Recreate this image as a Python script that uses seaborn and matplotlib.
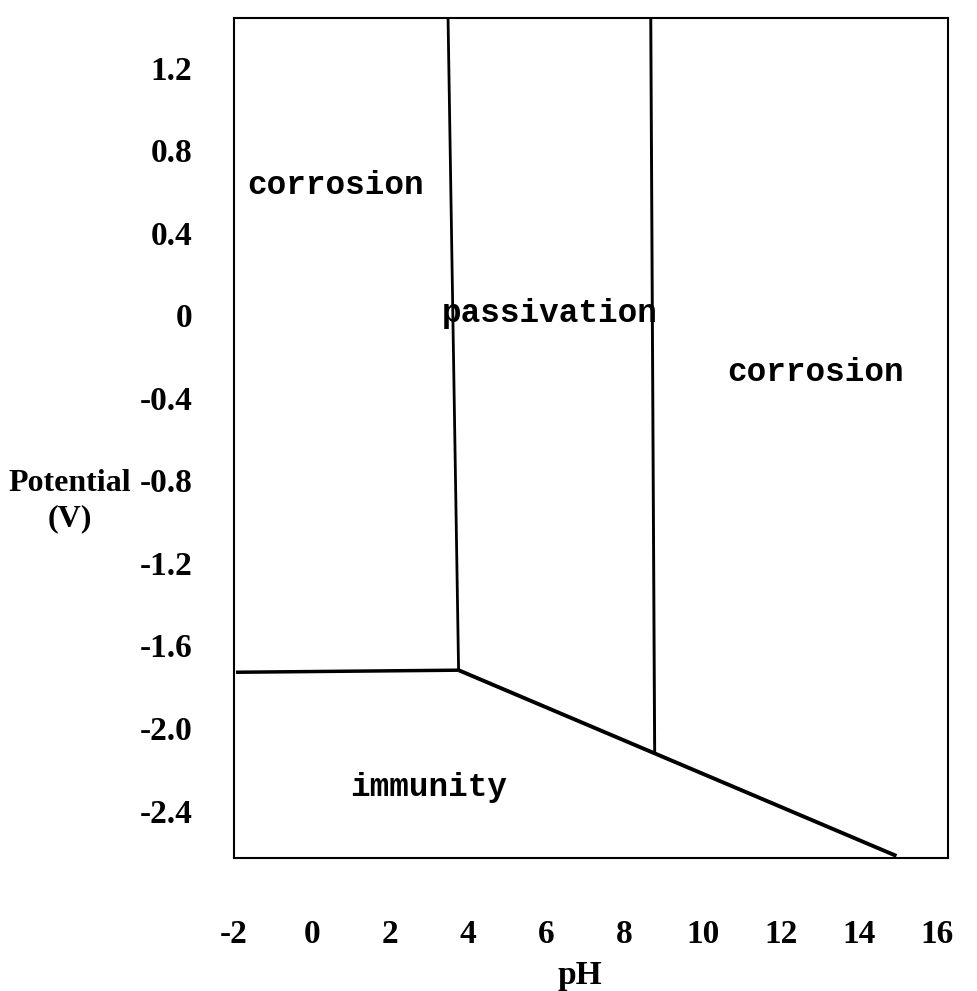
import matplotlib
matplotlib.use("Agg")
import matplotlib.pyplot as plt
import numpy as np
import pandas as pd
import seaborn as sns

# ---- data ----
ph_ticks = [-2, 0, 2, 4, 6, 8, 10, 12, 14, 16]
ph_tick_labels = ["-2", "0", "2", "4", "6", "8", "10", "12", "14", "16"]
e_ticks = [1.2, 0.8, 0.4, 0.0, -0.4, -0.8, -1.2, -1.6, -2.0, -2.4]
e_tick_labels = ["1.2", "0.8", "0.4", "0", "-0.4", "-0.8", "-1.2", "-1.6", "-2.0", "-2.4"]

ph_range = [-1.87, 16.28]
e_range = [-2.63, 1.44]

# boundary lines (pH, potential)
seg_names = ["immunity_acid", "immunity_alkaline", "passive_low", "passive_high"]
seg_ph = [[-1.95, 3.75], [3.75, 14.96], [3.48, 3.75], [8.67, 8.77]]
seg_e = [[-1.73, -1.72], [-1.72, -2.62], [1.44, -1.72], [1.44, -2.12]]

# region labels
region_names = ["corrosion", "passivation", "corrosion", "immunity"]
region_ph = [0.60, 6.09, 12.90, 2.99]
region_e = [0.63, 0.01, -0.28, -2.29]

# ---- figure ----
sns.set_theme(style="white")
plt.rcParams["font.family"] = ["Liberation Serif", "DejaVu Serif"]

fig = plt.figure(figsize=(9.77, 9.91), dpi=100)
ax = fig.add_axes([234 / 977, 133 / 991, 714 / 977, 840 / 991])

seg_lw = {"immunity_acid": 2.5, "immunity_alkaline": 2.8, "passive_low": 2.0, "passive_high": 2.1}
for name, xs, ys in zip(seg_names, seg_ph, seg_e):
    df = pd.DataFrame({"pH": xs, "E": ys})
    sns.lineplot(data=df, x="pH", y="E", ax=ax, color="black", lw=seg_lw[name],
                 sort=False, estimator=None, solid_capstyle="butt")

for name, x, y in zip(region_names, region_ph, region_e):
    ax.text(x, y, name, ha="center", va="center", fontsize=23.5,
            family=["Liberation Mono", "DejaVu Sans Mono"], weight="bold", color="black")

ax.set_xlim(*ph_range)
ax.set_ylim(*e_range)
ax.set_xticks(ph_ticks)
ax.set_xticklabels(ph_tick_labels, fontweight="bold")
ax.set_yticks(e_ticks)
ax.set_yticklabels(e_tick_labels, fontweight="bold")
ax.tick_params(axis="both", length=0, labelsize=24, colors="black")
ax.tick_params(axis="x", pad=44)
ax.tick_params(axis="y", pad=30)

for sp in ax.spines.values():
    sp.set_visible(True)
    sp.set_color("black")
    sp.set_linewidth(1.5)

ax.set_xlabel("pH", fontsize=24, color="black", fontweight="bold")
ax.xaxis.set_label_coords(0.4846, -0.121)
ax.set_ylabel("Potential\n(V)", fontsize=23, color="black", rotation=0, fontweight="bold",
              ha="center", va="center", linespacing=1.3)
ax.yaxis.set_label_coords(-0.2297, 0.425)

fig.savefig("out.png", dpi=100, facecolor="white")
